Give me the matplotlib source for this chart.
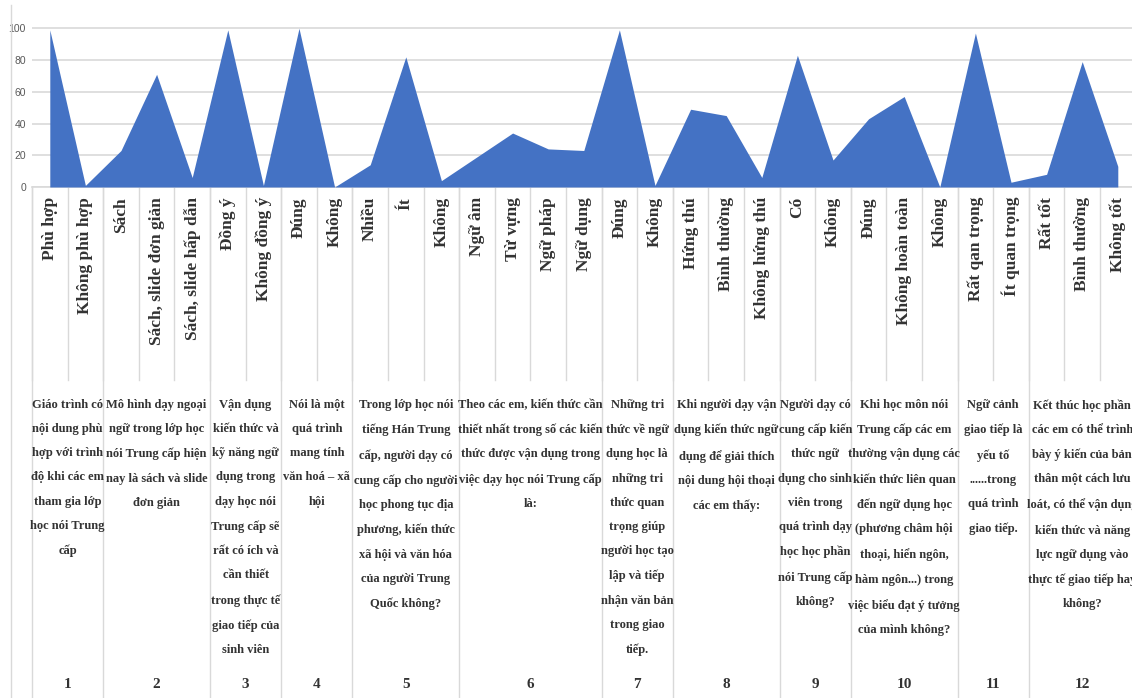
import matplotlib.pyplot as plt
import matplotlib.transforms as mtransforms
import numpy as np

# Answer options for each survey question (inner axis level)
options = ["Phù hợp", "Không phù hợp",
           "Sách", "Sách, slide đơn giản", "Sách, slide hấp dẫn",
           "Đồng ý", "Không đồng ý",
           "Đúng", "Không",
           "Nhiều", "Ít", "Không",
           "Ngữ âm", "Từ vựng", "Ngữ pháp", "Ngữ dụng",
           "Đúng", "Không",
           "Hứng thú", "Bình thường", "Không hứng thú",
           "Có", "Không",
           "Đúng", "Không hoàn toàn", "Không",
           "Rất qan trọng", "Ít quan trọng",
           "Rất tốt", "Bình thường", "Không tốt"]

# Percentage of students choosing each option
percent = [99, 1,
           23, 71, 6,
           99, 1,
           100, 0,
           14, 82, 4,
           19, 34, 24, 23,
           99, 1,
           49, 45, 6,
           83, 17,
           43, 57, 0,
           97, 3,
           8, 79, 13]

# Number of options per question (outer axis level)
group_sizes = [2, 3, 2, 2, 3, 4, 2, 3, 2, 3, 2, 3]
question_ids = ["1", "2", "3", "4", "5", "6", "7", "8", "9", "10", "11", "12"]
questions = [
    "Giáo trình có\nnội dung phù\nhợp với trình\nđộ khi các em\ntham gia lớp\nhọc nói Trung\ncấp",
    "Mô hình dạy ngoại\nngữ trong lớp học\nnói Trung cấp hiện\nnay là sách và slide\nđơn giản",
    "Vận dụng\nkiến thức và\nkỹ năng ngữ\ndụng trong\ndạy học nói\nTrung cấp sẽ\nrất có ích và\ncần thiết\ntrong thực tế\ngiao tiếp của\nsinh viên",
    "Nói là một\nquá trình\nmang tính\nvăn hoá – xã\nhội",
    "Trong lớp học nói\ntiếng Hán Trung\ncấp, người dạy có\ncung cấp cho người\nhọc phong tục địa\nphương, kiến thức\nxã hội và văn hóa\ncủa người Trung\nQuốc không?",
    "Theo các em, kiến thức cần\nthiết nhất trong số các kiến\nthức được vận dụng trong\nviệc dạy học nói Trung cấp\nlà:",
    "Những tri\nthức về ngữ\ndụng học là\nnhững tri\nthức quan\ntrọng giúp\nngười học tạo\nlập và tiếp\nnhận văn bản\ntrong giao\ntiếp.",
    "Khi người dạy vận\ndụng kiến thức ngữ\ndụng để giải thích\nnội dung hội thoại\ncác em thấy:",
    "Người dạy có\ncung cấp kiến\nthức ngữ\ndụng cho sinh\nviên trong\nquá trình dạy\nhọc học phần\nnói Trung cấp\nkhông?",
    "Khi học môn nói\nTrung cấp các em\nthường vận dụng các\nkiến thức liên quan\nđến ngữ dụng học\n(phương châm hội\nthoại, hiển ngôn,\nhàm ngôn...) trong\nviệc biểu đạt ý tưởng\ncủa mình không?",
    "Ngữ cảnh\ngiao tiếp là\nyếu tố\n......trong\nquá trình\ngiao tiếp.",
    "Kết thúc học phần\ncác em có thể trình\nbày ý kiến của bản\nthân một cách lưu\nloát, có thể vận dụng\nkiến thức và năng\nlực ngữ dụng vào\nthực tế giao tiếp hay\nkhông?",
]

W, H = 1132, 698
fig = plt.figure(figsize=(W / 100, H / 100), dpi=100)

# plot area in pixel units: left edge 32, 0-line at 187, 100-line at 28.3
n = len(percent)
x_left, x_right = 32, 32 + 35.6 * n
y0, y100 = 187, 28.3
ymax = 102
y_top = y0 - (y0 - y100) * ymax / 100
ax = fig.add_axes([x_left / W, (H - y0) / H, (x_right - x_left) / W, (y0 - y_top) / H])

x = np.arange(n)
ax.fill_between(x, percent, color="#4472C4", lw=0, zorder=3)
ax.set_xlim(-0.5, n - 0.5)
ax.set_ylim(0, ymax)
ax.set_yticks(np.arange(0, 101, 20))
ax.set_xticks([])
ax.yaxis.grid(True, color="#d9d9d9", lw=1.2)
ax.set_axisbelow(True)
ax.tick_params(axis="y", length=0, pad=4.3, labelsize=7.5, labelcolor="#595959")
for lab in ax.get_yticklabels():
    lab.set_fontfamily("Liberation Sans")
for side in ["left", "right", "top"]:
    ax.spines[side].set_visible(False)
ax.spines["bottom"].set_color("#d9d9d9")
ax.spines["bottom"].set_linewidth(1.2)

# x in data units, y in figure pixels (from the top)
trans = mtransforms.blended_transform_factory(ax.transData, fig.transFigure)


def fy(py):
    return (H - py) / H


line_kw = dict(color="#d9d9d9", lw=1.0, transform=trans, clip_on=False)
text_color = "#333333"

# option labels and their short separators
for i, label in enumerate(options):
    ax.text(i, fy(197), label, rotation=90, ha="center", va="top",
            fontsize=12.5, fontweight="bold", family="Liberation Serif",
            color=text_color, transform=trans)
    ax.plot([i - 0.5, i - 0.5], [fy(y0), fy(380)], **line_kw)

# question labels and the long separators between groups
start = 0
for size, qid, text in zip(group_sizes, question_ids, questions):
    center = start + (size - 1) / 2
    ax.plot([start - 0.5, start - 0.5], [fy(y0), fy(H)], **line_kw)
    ax.text(center, fy(399), text, ha="center", va="top", multialignment="center",
            fontsize=9, fontweight="bold", family="Liberation Serif",
            color=text_color, linespacing=2.35, transform=trans)
    ax.text(center, fy(685), qid, ha="center", va="center",
            fontsize=11, fontweight="bold", family="Liberation Serif",
            color=text_color, transform=trans)
    start += size
ax.plot([n - 0.5, n - 0.5], [fy(y0), fy(H)], **line_kw)

# outer frame line on the left
fig.add_artist(plt.Line2D([11 / W, 11 / W], [fy(5), fy(H)], color="#d9d9d9", lw=1.0))

fig.savefig("out.png", dpi=100)
